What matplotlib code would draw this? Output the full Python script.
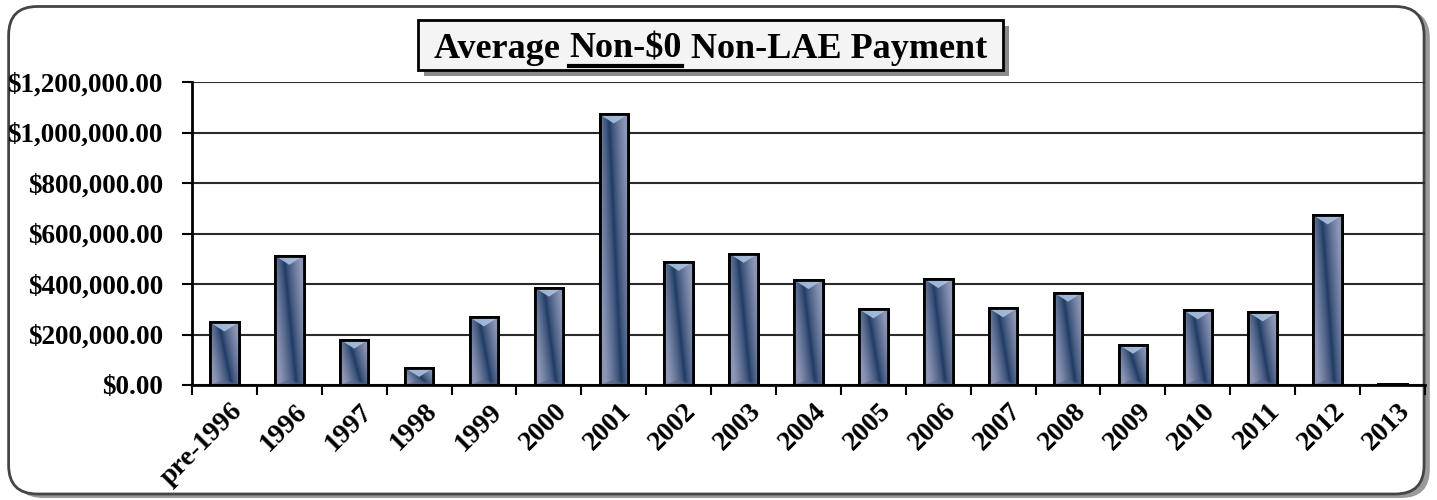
import matplotlib.pyplot as plt
import matplotlib.patches as mpatches
import numpy as np
from matplotlib.colors import to_rgb
from matplotlib.ticker import FuncFormatter, FixedLocator


YEARS = ["pre-1996", "1996", "1997", "1998", "1999", "2000", "2001", "2002",
         "2003", "2004", "2005", "2006", "2007", "2008", "2009", "2010",
         "2011", "2012", "2013"]
AVG_PAYMENT = [248000, 512000, 180000, 68000, 268000, 386000, 1072000, 488000,
               520000, 416000, 300000, 420000, 304000, 366000, 160000, 296000,
               288000, 672000, 5000]
Y_TICKS = [0, 200000, 400000, 600000, 800000, 1000000, 1200000]

SERIF = ["Liberation Serif", "DejaVu Serif"]
BAR_W = 0.44


def bar_gradient():
    # diagonal dark band across a light grey-blue bar
    u = np.linspace(0, 1, 40)[None, :]
    v = np.linspace(1, 0, 120)[:, None]
    c = 0.3 + 0.45 * (1 - v)
    f = np.clip(np.abs(u - c) / 0.55, 0, 1) ** 0.75
    dark = np.array(to_rgb("#1c3862"))
    light = np.array(to_rgb("#8d96b6"))
    return dark + (light - dark) * f[..., None]


def main():
    plt.rcParams["font.family"] = SERIF
    fig = plt.figure(figsize=(14.37, 5.0), dpi=100)

    # rounded outer frame with shadow
    shadow = mpatches.FancyBboxPatch((0.010, 0.004), 0.985, 0.977,
                                     boxstyle="round,pad=0,rounding_size=0.02",
                                     transform=fig.transFigure, facecolor="#9a9a9a",
                                     edgecolor="none", mutation_aspect=2.874, zorder=0)
    frame = mpatches.FancyBboxPatch((0.006, 0.012), 0.985, 0.975,
                                    boxstyle="round,pad=0,rounding_size=0.02",
                                    transform=fig.transFigure, facecolor="white",
                                    edgecolor="#444444", linewidth=2,
                                    mutation_aspect=2.874, zorder=1)
    fig.patches.extend([shadow, frame])

    ax = fig.add_axes([0.1336, 0.23, 0.858, 0.606])
    ax.set_zorder(2)
    ax.patch.set_alpha(0)

    x = np.arange(len(YEARS))
    bars = ax.bar(x, AVG_PAYMENT, width=BAR_W, color="#2a4570",
                  edgecolor="black", linewidth=2, zorder=3)
    grad = bar_gradient()
    bevel = 36000
    for xi, h, b in zip(x, AVG_PAYMENT, bars):
        x0, x1 = xi - BAR_W / 2, xi + BAR_W / 2
        im = ax.imshow(grad, extent=(x0, x1, 0, h), aspect="auto",
                       interpolation="bilinear", zorder=3.5)
        im.set_clip_path(b)
        top = mpatches.Polygon([(x0, h), (x1, h), (xi, h - bevel)],
                               closed=True, facecolor="#a9c2e0", edgecolor="none",
                               alpha=0.9, zorder=3.6)
        ax.add_patch(top)
        top.set_clip_path(b)
        bot = mpatches.Polygon([(x0, 0), (x1, 0), (xi, min(bevel * 0.6, h))],
                               closed=True, facecolor="#5a6585", edgecolor="none",
                               alpha=0.6, zorder=3.6)
        ax.add_patch(bot)
        bot.set_clip_path(b)
        edge = mpatches.Rectangle((x0, 0), BAR_W, h, facecolor="none",
                                  edgecolor="black", linewidth=2, zorder=3.8)
        ax.add_patch(edge)

    ax.set_xlim(-0.5, len(YEARS) - 0.5)
    ax.set_ylim(0, 1200000)
    ax.set_yticks(Y_TICKS)
    ax.yaxis.set_major_formatter(FuncFormatter(lambda v, p: "${:,.2f}".format(v)))
    ax.grid(axis="y", color="#2b2b2b", linewidth=1.5, zorder=1)
    for s in ["top", "right"]:
        ax.spines[s].set_visible(False)
    ax.spines["left"].set_linewidth(2)
    ax.spines["bottom"].set_linewidth(2)
    ax.spines["bottom"].set_zorder(4)

    ax.set_xticks(x + 0.08)
    ax.set_xticklabels(YEARS, rotation=45, ha="right", va="top",
                       rotation_mode="anchor", fontsize=20, fontweight="bold")
    ax.xaxis.set_minor_locator(FixedLocator(np.arange(-0.5, len(YEARS), 1.0)))
    ax.tick_params(axis="x", which="major", length=0, pad=10)
    ax.tick_params(axis="x", which="minor", length=7, width=1.5, direction="out")
    ax.tick_params(axis="y", length=7, width=1.5, pad=14, labelsize=19.5)
    for lbl in ax.get_yticklabels():
        lbl.set_fontweight("bold")

    # title box with shadow
    bx0, by0, bw, bh = 0.291, 0.86, 0.407, 0.10
    fig.patches.append(mpatches.Rectangle((bx0 + 0.004, by0 - 0.012), bw, bh,
                                          transform=fig.transFigure,
                                          facecolor="#8a8a8a", edgecolor="none",
                                          zorder=2))
    fig.patches.append(mpatches.Rectangle((bx0, by0), bw, bh,
                                          transform=fig.transFigure,
                                          facecolor="#f4f4f4", edgecolor="black",
                                          linewidth=2, zorder=3))

    renderer = fig.canvas.get_renderer()
    parts = ["Average ", "Non-$0", " Non-LAE Payment"]
    kw = dict(fontsize=26, fontweight="bold", va="baseline", ha="left",
              zorder=5)
    widths = []
    for p in parts:
        t = fig.text(0, 0, p, **kw)
        widths.append(t.get_window_extent(renderer).width / fig.bbox.width)
        t.remove()
    xs = bx0 + bw / 2 - sum(widths) / 2
    ybase = 0.884
    for i, p in enumerate(parts):
        fig.text(xs, ybase, p, **kw)
        if i == 1:
            fig.add_artist(plt.Line2D([xs, xs + widths[i]], [ybase - 0.016] * 2,
                                      transform=fig.transFigure, color="black",
                                      linewidth=3, zorder=5))
        xs += widths[i]

    plt.savefig("out.png", dpi=100)


if __name__ == "__main__":
    main()
